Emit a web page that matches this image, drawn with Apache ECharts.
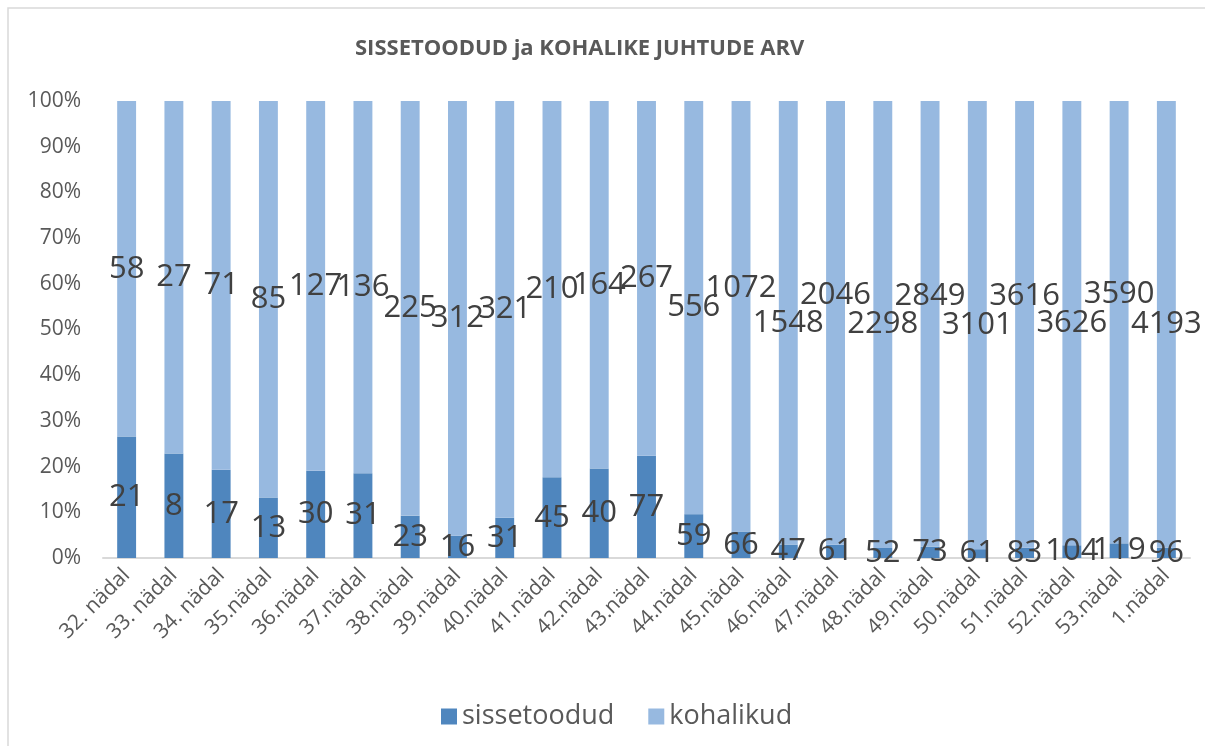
<!DOCTYPE html>
<html>
<head>
<meta charset="utf-8">
<title>SISSETOODUD ja KOHALIKE JUHTUDE ARV</title>
<script src="https://cdn.jsdelivr.net/npm/echarts@6/dist/echarts.min.js"></script>
<style>
  html, body { margin: 0; padding: 0; background: #ffffff; }
  #chart { width: 1205px; height: 746px; }
</style>
</head>
<body>
<div id="chart"></div>
<script>
// weeks on the x axis
var nadalad = ["32. nädal", "33. nädal", "34. nädal", "35.nädal", "36.nädal", "37.nädal",
  "38.nädal", "39.nädal", "40.nädal", "41.nädal", "42.nädal", "43.nädal", "44.nädal",
  "45.nädal", "46.nädal", "47.nädal", "48.nädal", "49.nädal", "50.nädal", "51.nädal",
  "52.nädal", "53.nädal", "1.nädal"];
// imported cases
var sissetoodud = [21, 8, 17, 13, 30, 31, 23, 16, 31, 45, 40, 77, 59, 66, 47, 61, 52, 73, 61, 83, 104, 119, 96];
// local cases
var kohalikud = [58, 27, 71, 85, 127, 136, 225, 312, 321, 210, 164, 267, 556, 1072, 1548, 2046, 2298, 2849, 3101, 3616, 3626, 3590, 4193];

var chart = echarts.init(document.getElementById("chart"));

// 100% stacked: share of every week total
function share(arr) {
  var out = [];
  for (var i = 0; i < arr.length; i++) {
    out.push(arr[i] / (sissetoodud[i] + kohalikud[i]) * 100);
  }
  return out;
}

var font = "'Open Sans', sans-serif";
var labelStyle = {
  show: true,
  position: "inside",
  color: "#404040",
  fontFamily: font,
  fontSize: 31,
  formatter: function (p) {
    var raw = p.seriesIndex === 0 ? sissetoodud : kohalikud;
    return raw[p.dataIndex];
  }
};

// like Excel: when a data label runs into the one on its left, lift it one line up
var placed = {};
function avoidLabels(params) {
  var key = params.seriesIndex;
  var r = params.labelRect;
  var prev = placed[key] && placed[key][params.dataIndex - 1];
  var dy = 0;
  if (prev) {
    var overlapX = Math.min(prev.x + prev.width, r.x + r.width) - Math.max(prev.x, r.x);
    var overlapY = Math.min(prev.y + prev.height, r.y + r.height) - Math.max(prev.y, r.y);
    if (overlapX > 8 && overlapY > 10) {
      dy = -r.height * 0.9;
    }
  }
  if (!placed[key]) placed[key] = {};
  placed[key][params.dataIndex] = { x: r.x, y: r.y + dy, width: r.width, height: r.height };
  return { dy: dy };
}

var option = {
  animation: false,
  textStyle: { fontFamily: font },
  title: {
    text: "SISSETOODUD ja KOHALIKE JUHTUDE ARV",
    left: 350,
    top: 33,
    textStyle: { color: "#595959", fontSize: 22, fontWeight: "bold", fontFamily: font }
  },
  legend: {
    left: 436,
    top: 698,
    itemWidth: 16,
    itemHeight: 16,
    itemGap: 34,
    icon: "rect",
    textStyle: { color: "#595959", fontSize: 27, fontFamily: font }
  },
  grid: { left: 103, right: 15, top: 101, bottom: 188 },
  xAxis: {
    type: "category",
    data: nadalad,
    axisLine: { show: true, lineStyle: { color: "#D9D9D9", width: 2 } },
    axisTick: { show: false },
    axisLabel: { rotate: 45, color: "#595959", fontSize: 21, margin: 14, interval: 0 }
  },
  yAxis: {
    type: "value",
    min: 0,
    max: 100,
    interval: 10,
    splitLine: { show: false },
    axisLine: { show: false },
    axisTick: { show: false },
    axisLabel: { color: "#595959", fontSize: 21, margin: 22, formatter: "{value}%" }
  },
  graphic: [{
    type: "rect",
    shape: { x: 8, y: 8, width: 1220, height: 760 },
    style: { fill: "none", stroke: "#D9D9D9", lineWidth: 1.5 },
    silent: true
  }],
  series: [
    {
      name: "sissetoodud",
      type: "bar",
      stack: "kokku",
      barWidth: "40%",
      itemStyle: { color: "#4F86BE" },
      label: labelStyle,
      labelLayout: avoidLabels,
      data: share(sissetoodud)
    },
    {
      name: "kohalikud",
      type: "bar",
      stack: "kokku",
      barWidth: "40%",
      itemStyle: { color: "#97B9E0" },
      label: labelStyle,
      labelLayout: avoidLabels,
      data: share(kohalikud)
    }
  ]
};

chart.setOption(option);
window.addEventListener("resize", function () {
  chart.resize();
});
</script>
</body>
</html>
